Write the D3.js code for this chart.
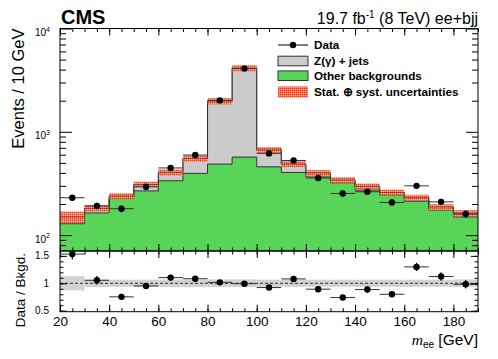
<!DOCTYPE html>
<html>
<head>
<meta charset="utf-8">
<script src="https://d3js.org/d3.v7.min.js"></script>
<style>
  body { margin: 0; background: #fff; }
  svg { font-family: "Liberation Sans", Arial, Helvetica, sans-serif; }
</style>
</head>
<body>
<svg id="chart" width="498" height="359"></svg>
<script>
// bin low edges (GeV), 10 GeV wide
var binLow = [20, 30, 40, 50, 60, 70, 80, 90, 100, 110, 120, 130, 140, 150, 160, 170, 180];
var binWidth = 10;
var otherBkg = [129, 164, 226, 268, 336, 396, 487, 569, 458, 404, 366, 321, 273, 244, 213, 175, 150];
var zjets    = [21, 18, 13, 41, 69, 154, 1493, 3561, 212, 84, 34, 21, 24, 15, 18, 12, 13];
var dataObs  = [230, 192, 180, 294, 447, 596, 2015, 4100, 618, 527, 357, 253, 263, 207, 300, 210, 160];
var relUnc   = [0.13, 0.07, 0.065, 0.065, 0.07, 0.07, 0.07, 0.07, 0.065, 0.065, 0.065, 0.065, 0.065, 0.065, 0.065, 0.065, 0.07];
var yTicksMain = [100, 1000, 10000];
var yTicksRatio = [0.5, 1, 1.5];
var xTicks = [20, 40, 60, 80, 100, 120, 140, 160, 180];

var svg = d3.select("#chart"),
    left = 60, right = 478,
    mainTop = 28.5, mainBottom = 251,
    ratioTop = 251, ratioBottom = 311.7;

var bins = binLow.map(function(b, i) {
  var tot = otherBkg[i] + zjets[i];
  return {lo: b, hi: b + binWidth, other: otherBkg[i], total: tot, data: dataObs[i],
          unc: relUnc[i], ratio: dataObs[i] / tot, rerr: Math.sqrt(dataObs[i]) / tot};
});

var x = d3.scaleLinear().domain([20, 190]).range([left, right]);
var y = d3.scaleLog().domain([70.2, 10000]).range([mainBottom, mainTop]);
var yr = d3.scaleLinear().domain([0.482, 1.589]).range([ratioBottom, ratioTop]);

var defs = svg.append("defs");
var hatch = defs.append("pattern")
    .attr("id", "hatch").attr("width", 2).attr("height", 2)
    .attr("patternUnits", "userSpaceOnUse");
hatch.append("rect").attr("width", 2).attr("height", 2).attr("fill", "#ff7352");
hatch.append("rect").attr("width", 1).attr("height", 1).attr("fill", "#ea3414");
hatch.append("rect").attr("x", 1).attr("y", 1).attr("width", 1).attr("height", 1).attr("fill", "#ffa58c");
defs.append("clipPath").attr("id", "clipMain").append("rect")
    .attr("x", left).attr("y", mainTop).attr("width", right - left).attr("height", mainBottom - mainTop);
defs.append("clipPath").attr("id", "clipRatio").append("rect")
    .attr("x", left).attr("y", ratioTop).attr("width", right - left).attr("height", ratioBottom - ratioTop);

// step points for histograms
function steps(key) {
  var pts = bins.map(function(d) { return [d.lo, d[key]]; });
  pts.push([190, bins[bins.length - 1][key]]);
  return pts;
}

var area = d3.area().curve(d3.curveStepAfter)
    .x(function(d) { return x(d[0]); })
    .y0(mainBottom)
    .y1(function(d) { return y(d[1]); });
var line = d3.line().curve(d3.curveStepAfter)
    .x(function(d) { return x(d[0]); })
    .y(function(d) { return y(d[1]); });

var gm = svg.append("g").attr("clip-path", "url(#clipMain)");

gm.append("path").attr("d", area(steps("total"))).attr("fill", "#cbcbcb");
gm.append("path").attr("d", area(steps("other"))).attr("fill", "#58d458");
gm.append("path").attr("d", line(steps("total"))).attr("fill", "none")
    .attr("stroke", "#333").attr("stroke-width", 1);
gm.append("path").attr("d", line(steps("other"))).attr("fill", "none")
    .attr("stroke", "#333").attr("stroke-width", 1);

gm.selectAll(".band")
  .data(bins)
  .enter().append("rect")
    .attr("class", "band")
    .attr("x", function(d) { return x(d.lo); })
    .attr("width", function(d) { return x(d.hi) - x(d.lo); })
    .attr("y", function(d) { return y(d.total * (1 + d.unc)); })
    .attr("height", function(d) { return y(d.total * (1 - d.unc)) - y(d.total * (1 + d.unc)); })
    .attr("fill", "url(#hatch)")
    .attr("opacity", 0.92);

gm.append("path").attr("d", line(steps("total"))).attr("fill", "none")
    .attr("stroke", "#222").attr("stroke-width", 0.8).attr("opacity", 0.6);

// data points, main panel
var pts = gm.selectAll(".pt")
  .data(bins)
  .enter().append("g").attr("class", "pt");
pts.append("line")
    .attr("x1", function(d) { return x(d.lo); })
    .attr("x2", function(d) { return x(d.hi); })
    .attr("y1", function(d) { return y(d.data); })
    .attr("y2", function(d) { return y(d.data); })
    .attr("stroke", "#333").attr("stroke-width", 1);
pts.append("line")
    .attr("x1", function(d) { return x(d.lo + 5); })
    .attr("x2", function(d) { return x(d.lo + 5); })
    .attr("y1", function(d) { return y(d.data + Math.sqrt(d.data)); })
    .attr("y2", function(d) { return y(d.data - Math.sqrt(d.data)); })
    .attr("stroke", "#000").attr("stroke-width", 1.2);
pts.append("circle")
    .attr("cx", function(d) { return x(d.lo + 5); })
    .attr("cy", function(d) { return y(d.data); })
    .attr("r", 3.2).attr("fill", "#000");

// ratio panel
var gr = svg.append("g").attr("clip-path", "url(#clipRatio)");
gr.selectAll(".rband")
  .data(bins)
  .enter().append("rect")
    .attr("class", "rband")
    .attr("x", function(d) { return x(d.lo); })
    .attr("width", function(d) { return x(d.hi) - x(d.lo); })
    .attr("y", function(d) { return yr(1 + d.unc); })
    .attr("height", function(d) { return yr(1 - d.unc) - yr(1 + d.unc); })
    .attr("fill", "#d2d2d2");
gr.append("line")
    .attr("x1", left).attr("x2", right).attr("y1", yr(1)).attr("y2", yr(1))
    .attr("stroke", "#000").attr("stroke-width", 0.8).attr("stroke-dasharray", "3,2");
var rpts = gr.selectAll(".rpt")
  .data(bins)
  .enter().append("g").attr("class", "rpt");
rpts.append("line")
    .attr("x1", function(d) { return x(d.lo); })
    .attr("x2", function(d) { return x(d.hi); })
    .attr("y1", function(d) { return yr(d.ratio); })
    .attr("y2", function(d) { return yr(d.ratio); })
    .attr("stroke", "#333").attr("stroke-width", 1);
rpts.append("line")
    .attr("x1", function(d) { return x(d.lo + 5); })
    .attr("x2", function(d) { return x(d.lo + 5); })
    .attr("y1", function(d) { return yr(d.ratio + d.rerr); })
    .attr("y2", function(d) { return yr(d.ratio - d.rerr); })
    .attr("stroke", "#000").attr("stroke-width", 1.2);
rpts.append("circle")
    .attr("cx", function(d) { return x(d.lo + 5); })
    .attr("cy", function(d) { return yr(d.ratio); })
    .attr("r", 3.2).attr("fill", "#000");

// axes, ticks point inward on all sides
var minorX = d3.range(20, 191, 5);
function xAxes(yPos, dir, labels) {
  var mk = dir > 0 ? d3.axisTop : d3.axisBottom;
  svg.append("g").attr("class", "axis").attr("transform", "translate(0," + yPos + ")")
      .call(mk(x).tickValues(minorX).tickSize(-3.5).tickFormat(""));
  var g = svg.append("g").attr("class", "axis").attr("transform", "translate(0," + yPos + ")")
      .call(mk(x).tickValues(xTicks).tickSize(-7).tickPadding(5)
        .tickFormat(labels ? d3.format("d") : ""));
  return g;
}
xAxes(mainTop, 1, false);
xAxes(mainBottom, -1, false);
xAxes(ratioTop, 1, false);
var xb = xAxes(ratioBottom, -1, true);
xb.selectAll("text").attr("font-size", 13.5).attr("fill", "#000").attr("dy", "0.71em");

var minorY = [];
[100, 1000].forEach(function(dec) {
  for (var k = 2; k <= 9; k++) minorY.push(dec * k);
});
minorY.push(80, 90);
[[left, d3.axisLeft], [right, d3.axisRight]].forEach(function(s) {
  svg.append("g").attr("class", "axis").attr("transform", "translate(" + s[0] + ",0)")
      .call(s[1](y).tickValues(minorY).tickSize(-6).tickFormat(""));
  svg.append("g").attr("class", "axis").attr("transform", "translate(" + s[0] + ",0)")
      .call(s[1](y).tickValues(yTicksMain).tickSize(-12).tickFormat(""));
  svg.append("g").attr("class", "axis").attr("transform", "translate(" + s[0] + ",0)")
      .call(s[1](yr).tickValues(d3.range(0.5, 1.59, 0.1)).tickSize(-3.5).tickFormat(""));
  svg.append("g").attr("class", "axis").attr("transform", "translate(" + s[0] + ",0)")
      .call(s[1](yr).tickValues(yTicksRatio).tickSize(-7).tickFormat(""));
});
svg.selectAll(".axis .domain").remove();
svg.selectAll(".axis line").attr("stroke", "#000").attr("stroke-width", 1);

// frames
[[mainTop, mainBottom], [ratioTop, ratioBottom]].forEach(function(f) {
  svg.append("rect").attr("x", left).attr("y", f[0]).attr("width", right - left)
      .attr("height", f[1] - f[0]).attr("fill", "none").attr("stroke", "#000").attr("stroke-width", 1);
});

// y labels main: 10^n
yTicksMain.forEach(function(v) {
  var t = svg.append("text")
      .attr("x", 50).attr("y", y(v) + 7.5)
      .attr("text-anchor", "end").attr("font-size", 10);
  t.append("tspan").text("10");
  t.append("tspan").attr("dy", -4.5).attr("font-size", 7).text(Math.round(Math.log10(v)));
});
yTicksRatio.forEach(function(v) {
  svg.append("text").attr("x", 49).attr("y", yr(v)).attr("dy", "0.35em")
      .attr("text-anchor", "end").attr("font-size", 10).text(v);
});

// titles
svg.append("text").attr("transform", "translate(24," + mainTop + ") rotate(-90)")
    .attr("text-anchor", "end").attr("font-size", 16.5).text("Events / 10 GeV");
svg.append("text").attr("transform", "translate(25," + (ratioTop + 2) + ") rotate(-90)")
    .attr("text-anchor", "end").attr("font-size", 13.5).text("Data / Bkgd.");
var xt = svg.append("text").attr("x", right).attr("y", 345)
    .attr("text-anchor", "end").attr("font-size", 15.5);
xt.append("tspan").attr("font-family", "Liberation Serif, serif").attr("font-style", "italic").text("m");
xt.append("tspan").attr("font-size", 10).attr("dy", 3).text("ee");
xt.append("tspan").attr("dy", -3).text(" [GeV]");

svg.append("text").attr("x", 61).attr("y", 24).attr("font-size", 20)
    .attr("font-weight", "bold").text("CMS");
var lumi = svg.append("text").attr("x", right).attr("y", 24)
    .attr("text-anchor", "end").attr("font-size", 16);
lumi.append("tspan").text("19.7 fb");
lumi.append("tspan").attr("dy", -6).attr("font-size", 10).text("-1");
lumi.append("tspan").attr("dy", 6).text(" (8 TeV) ee+bjj");

// legend
var legendItems = ["Data", "Z(\u03b3) + jets", "Other backgrounds", "Stat. \u2295 syst. uncertainties"];
var legY = [45, 61, 75.7, 92];
var legend = svg.selectAll(".legend")
  .data(legendItems)
  .enter().append("g")
    .attr("class", "legend")
    .attr("transform", function(d, i) { return "translate(278," + legY[i] + ")"; });
legend.append("text")
    .attr("x", 36).attr("y", 0).attr("dy", "0.36em")
    .attr("font-size", 11.7).attr("font-weight", "bold")
    .text(function(d) { return d; });
var l0 = legend.filter(function(d, i) { return i === 0; });
l0.append("line").attr("x1", 0).attr("x2", 30).attr("stroke", "#000").attr("stroke-width", 1);
l0.append("circle").attr("cx", 15).attr("r", 3.2).attr("fill", "#000");
legend.filter(function(d, i) { return i === 1 || i === 2; })
  .append("rect")
    .attr("x", 0).attr("y", -4.8).attr("width", 30).attr("height", 9.6)
    .attr("fill", function(d, i) { return i === 0 ? "#cbcbcb" : "#58d458"; })
    .attr("stroke", "#333").attr("stroke-width", 1);
legend.filter(function(d, i) { return i === 3; })
  .append("rect")
    .attr("x", 0).attr("y", -5.5).attr("width", 30).attr("height", 11)
    .attr("fill", "url(#hatch)");
</script>
</body>
</html>
